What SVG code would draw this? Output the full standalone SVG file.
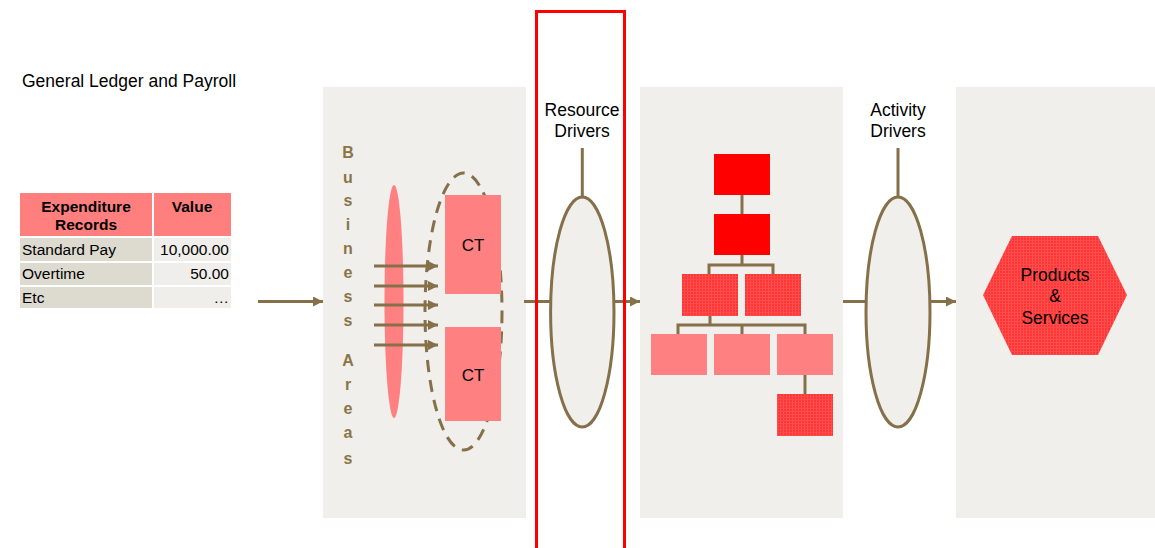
<svg xmlns="http://www.w3.org/2000/svg" width="1155" height="548" viewBox="0 0 1155 548">
  <style>
    .panel { fill: #F0EFEC; }
    .line { stroke: #85704A; stroke-width: 3; fill: none; }
    .drv { fill: #F0EFEC; stroke: #85704A; stroke-width: 3; }
    .t { font-family: "Liberation Sans", Arial, sans-serif; fill: #000; }
    .lbl { font-size: 17.5px; }
    .cell { font-size: 15.5px; }
    .hdr { font-size: 15.5px; font-weight: bold; }
    .ba { font-family: "Liberation Sans", Arial, sans-serif; font-size: 16px; font-weight: bold; fill: #8A7548; text-anchor: middle; }
    .red { fill: #FF0000; }
    .tex { fill: url(#grain); }
    .pink { fill: #FF8080; }
  </style>
  <defs>
    <marker id="arr" markerUnits="userSpaceOnUse" markerWidth="12" markerHeight="12" refX="10" refY="5" orient="auto">
      <path d="M0,0 L10,5 L0,10 Z" fill="#85704A"/>
    </marker>
    <pattern id="grain" width="3" height="3" patternUnits="userSpaceOnUse">
      <rect width="3" height="3" fill="#FF3535"/>
      <rect width="1" height="3" fill="#FF5252"/>
      <rect width="3" height="1" fill="#FF4A4A"/>
    </pattern>
  </defs>

  <rect width="1155" height="548" fill="#FFFFFF"/>

  <!-- background panels -->
  <g id="panels">
    <rect class="panel" x="323" y="87" width="203" height="431"/>
    <rect class="panel" x="640" y="87" width="203" height="431"/>
    <rect class="panel" x="956" y="87" width="199" height="431"/>
  </g>

  <text id="title" class="t lbl" x="22" y="87">General Ledger and Payroll</text>

  <!-- expenditure table -->
  <g id="table">
    <rect x="20" y="193" width="132" height="43" fill="#FF7F7F"/>
    <rect x="154" y="193" width="77" height="43" fill="#FF7F7F"/>
    <rect x="20" y="238" width="132" height="23" fill="#DDDAD0"/>
    <rect x="154" y="238" width="77" height="23" fill="#EFEEEA"/>
    <rect x="20" y="263" width="132" height="22" fill="#DDDAD0"/>
    <rect x="154" y="263" width="77" height="22" fill="#EFEEEA"/>
    <rect x="20" y="287" width="132" height="21" fill="#DDDAD0"/>
    <rect x="154" y="287" width="77" height="21" fill="#EFEEEA"/>
    <text class="t hdr" x="86" y="212" text-anchor="middle">Expenditure</text>
    <text class="t hdr" x="86" y="230" text-anchor="middle">Records</text>
    <text class="t hdr" x="192" y="212" text-anchor="middle">Value</text>
    <text class="t cell" x="22" y="255">Standard Pay</text>
    <text class="t cell" x="229" y="255" text-anchor="end">10,000.00</text>
    <text class="t cell" x="22" y="279">Overtime</text>
    <text class="t cell" x="229" y="279" text-anchor="end">50.00</text>
    <text class="t cell" x="22" y="303">Etc</text>
    <text class="t cell" x="229" y="303" text-anchor="end">…</text>
  </g>

  <!-- business areas -->
  <g id="business-areas">
    <text class="ba" x="348" y="158">B</text>
    <text class="ba" x="348" y="183">u</text>
    <text class="ba" x="348" y="206">s</text>
    <text class="ba" x="348" y="230">i</text>
    <text class="ba" x="348" y="254">n</text>
    <text class="ba" x="348" y="278">e</text>
    <text class="ba" x="348" y="302">s</text>
    <text class="ba" x="348" y="326">s</text>
    <text class="ba" x="348" y="366">A</text>
    <text class="ba" x="348" y="390">r</text>
    <text class="ba" x="348" y="414">e</text>
    <text class="ba" x="348" y="438">a</text>
    <text class="ba" x="348" y="464">s</text>
  </g>

  <g id="area-lens">
    <ellipse cx="394" cy="301.5" rx="9.5" ry="116.5" fill="#FF8080"/>
  </g>

  <g id="cost-group">
    <ellipse cx="463.5" cy="311.5" rx="38.5" ry="138.5" fill="none" stroke="#85704A" stroke-width="3" stroke-dasharray="12 8"/>
  </g>

  <g id="ct-top">
    <rect class="pink" x="445" y="195" width="56" height="99"/>
    <text class="t" font-size="17px" x="473" y="251" text-anchor="middle">CT</text>
  </g>
  <g id="ct-bottom">
    <rect class="pink" x="445" y="327" width="56" height="94"/>
    <text class="t" font-size="17px" x="473" y="381" text-anchor="middle">CT</text>
  </g>

  <!-- resource drivers -->
  <g id="resource-drivers">
    <text class="t lbl" x="582" y="116" text-anchor="middle">Resource</text>
    <text class="t lbl" x="582" y="137" text-anchor="middle">Drivers</text>
    <ellipse class="drv" cx="582.3" cy="312" rx="31.7" ry="115"/>
  </g>

  <!-- activity hierarchy -->
  <g id="activities">
    <rect class="red" x="714" y="154" width="56" height="41"/>
    <rect class="red" x="714" y="214" width="56" height="41"/>
    <rect class="tex" x="682" y="274" width="56" height="42"/>
    <rect class="tex" x="745" y="274" width="56" height="42"/>
    <rect class="pink" x="651" y="334" width="56" height="41"/>
    <rect class="pink" x="714" y="334" width="56" height="41"/>
    <rect class="pink" x="777" y="334" width="56" height="41"/>
    <rect class="tex" x="777" y="394" width="56" height="42"/>
  </g>

  <!-- activity drivers -->
  <g id="activity-drivers">
    <text class="t lbl" x="898" y="116" text-anchor="middle">Activity</text>
    <text class="t lbl" x="898" y="137" text-anchor="middle">Drivers</text>
    <ellipse class="drv" cx="898" cy="312" rx="32" ry="115"/>
  </g>

  <!-- products and services -->
  <g id="products">
    <polygon class="tex" points="983,295 1012,236 1098,236 1127,295 1098,355 1012,355"/>
    <text class="t lbl" x="1055" y="281" text-anchor="middle">Products</text>
    <text class="t lbl" x="1055" y="302" text-anchor="middle">&amp;</text>
    <text class="t lbl" x="1055" y="324" text-anchor="middle">Services</text>
  </g>

  <!-- connectors -->
  <g id="connectors">
    <line class="line" x1="258" y1="301.5" x2="323" y2="301.5" marker-end="url(#arr)"/>
    <line class="line" x1="374" y1="266" x2="438" y2="266" marker-end="url(#arr)"/>
    <line class="line" x1="374" y1="286" x2="438" y2="286" marker-end="url(#arr)"/>
    <line class="line" x1="374" y1="305" x2="438" y2="305" marker-end="url(#arr)"/>
    <line class="line" x1="374" y1="325" x2="438" y2="325" marker-end="url(#arr)"/>
    <line class="line" x1="374" y1="345" x2="438" y2="345" marker-end="url(#arr)"/>
    <line class="line" x1="524" y1="301.5" x2="550.5" y2="301.5"/>
    <line class="line" x1="614" y1="301.5" x2="640" y2="301.5" marker-end="url(#arr)"/>
    <line class="line" x1="582.3" y1="148" x2="582.3" y2="197"/>
    <line class="line" x1="843" y1="301.5" x2="866" y2="301.5"/>
    <line class="line" x1="930" y1="301.5" x2="956" y2="301.5" marker-end="url(#arr)"/>
    <line class="line" x1="898" y1="148" x2="898" y2="197"/>
    <line class="line" x1="742" y1="195" x2="742" y2="214"/>
    <path class="line" d="M742,255 V265 M709,274 V265 H773 V274"/>
    <path class="line" d="M710,316 V325 M678,334 V325 H805 V334 M742,325 V334"/>
    <line class="line" x1="805" y1="375" x2="805" y2="394"/>
  </g>

  <!-- highlight frame -->
  <rect id="highlight" x="536.5" y="11.5" width="88" height="545" fill="none" stroke="#FF0000" stroke-width="3"/>
</svg>
